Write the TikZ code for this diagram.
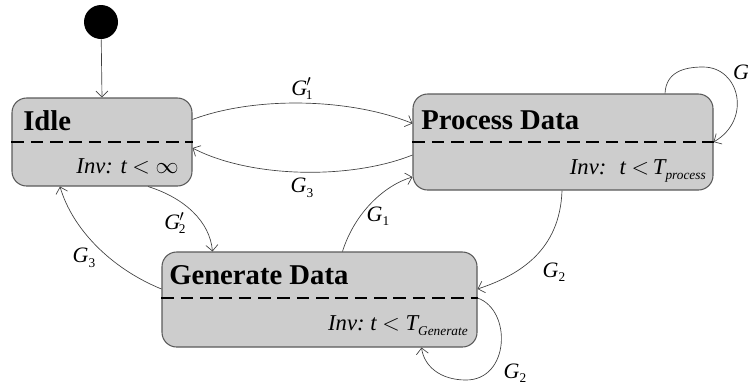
\documentclass[tikz,border=0pt]{standalone}
\usepackage{fontspec}
\setmainfont{Liberation Serif}
\usetikzlibrary{arrows.meta}
\definecolor{boxfill}{RGB}{205,205,205}
\definecolor{boxline}{RGB}{90,90,90}
\newcommand{\Gl}[1]{\textit{G}\raisebox{-0.45ex}{\fontsize{10}{11}\selectfont #1}}
\newcommand{\Gp}[1]{\textit{G}\kern-0.05em$'$\kern-0.25em\raisebox{-0.45ex}{\fontsize{10}{11}\selectfont #1}}
\begin{document}
\begin{tikzpicture}[x=0.75pt,y=-0.75pt,
  statebox/.style={draw=boxline,fill=boxfill,line width=0.8pt,rounded corners=11pt,inner sep=0pt},
  sep/.style={line width=1.5pt,dash pattern=on 9.5pt off 5pt},
  title/.style={font=\fontsize{21.5}{25}\selectfont\bfseries,inner sep=0pt,anchor=west},
  inv/.style={font=\fontsize{17}{20}\selectfont\itshape,inner sep=0pt,anchor=base east},
  lbl/.style={font=\fontsize{16.5}{19}\selectfont,inner sep=0pt},
  tr/.style={draw=black!75,line width=0.5pt,-{Straight Barb[length=4.5pt,width=9pt]}}
]
\useasboundingbox (0,0) rectangle (748,387);
% initial
\node[circle,fill=black,minimum size=25.5pt,inner sep=0pt] (init) at (101,22) {};
% states
\node[statebox,minimum width=135pt,minimum height=66pt] (idle) at (102,142) {};
\node[statebox,minimum width=225pt,minimum height=72pt] (proc) at (563,142) {};
\node[statebox,minimum width=236.25pt,minimum height=71.25pt] (gen) at (319.5,299.5) {};
% separators
\draw[sep] (idle.west) -- (idle.east);
\draw[sep] (proc.west) -- (proc.east);
\draw[sep] ([shift={(0,-1.5)}]gen.west) -- ([shift={(0,-1.5)}]gen.east);
% titles
\node[title] (tidle) at (23,121) {Idle};
\node[title] (tproc) at (421,120) {Process Data};
\node[title] (tgen) at (169,275) {Generate Data};
% invariants
\node[inv] (iidle) at (179,173) {Inv: t $<$ $\infty$};
\node[inv] (iproc) at (706,174) {Inv:~ t $<$\,T\raisebox{-0.5ex}{\fontsize{10}{11}\selectfont process}};
\node[inv] (igen) at (468,330) {Inv:~t $<$ T\raisebox{-0.5ex}{\fontsize{10}{11}\selectfont Generate}};
% transitions
\draw[tr] (init) -- (idle.north);
\draw[tr] ([shift={(0,22)}]idle.north east) .. controls (255,96) and (350,98) .. ([shift={(0,30)}]proc.north west);
\node[lbl] (l1) at (302,89) {\Gp{1}};
\draw[tr] ([shift={(0,13)}]proc.west) .. controls (350,180) and (250,178) .. ([shift={(0,6)}]idle.east);
\node[lbl] (l2) at (302,188) {\Gl{3}};
\draw[tr] ([shift={(46,0)}]idle.south) .. controls (185,198) and (210,222) .. ([shift={(51,0)}]gen.north west);
\node[lbl] (l3) at (175,223) {\Gp{2}};
\draw[tr] ([shift={(0,-10.5)}]gen.west) .. controls (110,268) and (72,228) .. ([shift={(-42,0)}]idle.south);
\node[lbl] (l4) at (84,258) {\Gl{3}};
\draw[tr] ([shift={(181,0)}]gen.north west) .. controls (355,212) and (385,185) .. ([shift={(0,35)}]proc.west);
\node[lbl] (l5) at (378,216) {\Gl{1}};
\draw[tr] ([shift={(-1,0)}]proc.south) .. controls (560,250) and (520,275) .. ([shift={(0,-10.5)}]gen.east);
\node[lbl] (l6) at (554,272) {\Gl{2}};
\draw[tr] ([shift={(102,0)}]proc.north) .. controls (666,72) and (684,67) .. (703,67) .. controls (740,67) and (752,120) .. (proc.east);
\node[lbl] (l7) at (741,72) {\textit{G}};
\draw[tr] ([shift={(0,-1.5)}]gen.east) .. controls (512,310) and (510,380) .. (466,380) .. controls (440,380) and (424,366) .. ([shift={(102,0)}]gen.south);
\node[lbl] (l8) at (515,373) {\Gl{2}};
\end{tikzpicture}
\end{document}
